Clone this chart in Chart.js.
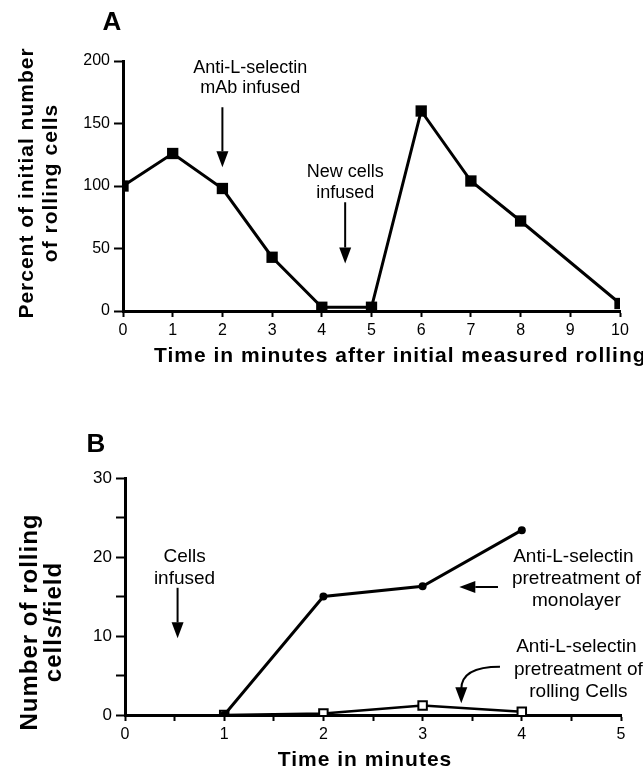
<!DOCTYPE html>
<html>
<head>
<meta charset="utf-8">
<script src="https://cdn.jsdelivr.net/npm/chart.js@4.4.1/dist/chart.umd.min.js"></script>
<style>
  html, body { margin: 0; padding: 0; background: #fff; }
  body { width: 643px; height: 773px; position: relative; overflow: hidden; }
  canvas { position: absolute; left: 0; }
  #chart-a { top: 0; }
  #chart-b { top: 400px; }
</style>
</head>
<body>
<canvas id="chart-a" width="643" height="400"></canvas>
<canvas id="chart-b" width="643" height="373"></canvas>
<script>
// Panel A: percent of initial rolling cells over time
const times_a = [0, 1, 2, 3, 4, 5, 6, 7, 8, 10];
const percent_a = [100, 126, 98, 43, 3, 3, 160, 104, 72, 6];
const ticks_a_x = [0, 1, 2, 3, 4, 5, 6, 7, 8, 9, 10];
const ticks_a_y = [0, 50, 100, 150, 200];

// Panel B: rolling cells per field
const times_b = [1, 2, 3, 4];
const monolayer_b = [0, 15, 16.3, 23.4];
const rolling_cells_b = [0, 0.2, 1.2, 0.4];
const ticks_b_x = [0, 1, 2, 3, 4, 5];
const ticks_b_y = [0, 10, 20, 30];

const FONT = "'Liberation Sans', Arial, Helvetica, sans-serif";

function to_points(xs, ys) {
    return xs.map((x, i) => ({ x: x, y: ys[i] }));
}

function draw_head(ctx, x, y, ang, head, half) {
    ctx.beginPath();
    ctx.moveTo(x, y);
    ctx.lineTo(x - head * Math.cos(ang) + half * Math.sin(ang), y - head * Math.sin(ang) - half * Math.cos(ang));
    ctx.lineTo(x - head * Math.cos(ang) - half * Math.sin(ang), y - head * Math.sin(ang) + half * Math.cos(ang));
    ctx.closePath();
    ctx.fill();
}

function draw_arrow(ctx, x1, y1, x2, y2) {
    const ang = Math.atan2(y2 - y1, x2 - x1);
    const head = 16, half = 6;
    ctx.save();
    ctx.strokeStyle = "#000";
    ctx.fillStyle = "#000";
    ctx.lineWidth = 2;
    ctx.beginPath();
    ctx.moveTo(x1, y1);
    ctx.lineTo(x2 - head * Math.cos(ang), y2 - head * Math.sin(ang));
    ctx.stroke();
    draw_head(ctx, x2, y2, ang, head, half);
    ctx.restore();
}

function text(ctx, str, x, y, font, opts) {
    opts = opts || {};
    ctx.save();
    ctx.fillStyle = "#000";
    ctx.font = font;
    ctx.textAlign = opts.align || "center";
    ctx.textBaseline = "middle";
    if (opts.spacing) ctx.letterSpacing = opts.spacing;
    ctx.translate(x, y);
    if (opts.rotate) ctx.rotate(opts.rotate);
    ctx.fillText(str, 0, 0);
    ctx.restore();
}

function base_scale(min, max, step, labels, tick_len, size, fit) {
    return {
        type: "linear",
        min: min,
        max: max,
        afterFit: fit,
        ticks: {
            stepSize: step,
            autoSkip: false,
            color: "#000",
            font: { family: FONT, size: size },
            padding: 4,
            callback: (v) => labels.includes(v) ? String(v) : ""
        },
        grid: {
            display: true,
            drawOnChartArea: false,
            drawTicks: true,
            tickLength: tick_len,
            tickColor: "#000",
            tickWidth: 2
        },
        border: { display: true, color: "#000", width: 3 }
    };
}

// Panel A annotations
const annot_a = {
    id: "annot_a",
    afterDraw(chart) {
        const ctx = chart.ctx;
        const xs = chart.scales.x, ys = chart.scales.y;
        const px = (v) => xs.getPixelForValue(v);
        const py = (v) => ys.getPixelForValue(v);
        const f = "18px " + FONT;
        text(ctx, "A", 112, 23, "bold 26px " + FONT);
        text(ctx, "Anti-L-selectin", px(2.56), py(194), f);
        text(ctx, "mAb infused", px(2.56), py(178), f);
        draw_arrow(ctx, px(2), py(163), px(2), py(115));
        text(ctx, "New cells", px(4.47), py(111), f);
        text(ctx, "infused", px(4.47), py(94), f);
        draw_arrow(ctx, px(4.47), py(87), px(4.47), py(38));
        const tf = "bold 21px " + FONT;
        text(ctx, "Percent of initial number", 27, 183, tf, { rotate: -Math.PI / 2, spacing: "1px" });
        text(ctx, "of rolling cells", 51, 183, tf, { rotate: -Math.PI / 2, spacing: "1px" });
        text(ctx, "Time in minutes after initial measured rolling", 154, 356, "bold 21px " + FONT, { align: "left", spacing: "1px" });
    }
};

// Panel B annotations
const annot_b = {
    id: "annot_b",
    afterDraw(chart) {
        const ctx = chart.ctx;
        const xs = chart.scales.x, ys = chart.scales.y;
        const px = (v) => xs.getPixelForValue(v);
        const py = (v) => ys.getPixelForValue(v);
        const f = "19px " + FONT;
        text(ctx, "B", 96, 45, "bold 26px " + FONT);
        text(ctx, "Cells", px(0.6), py(20), f);
        text(ctx, "infused", px(0.6), py(17.3), f);
        draw_arrow(ctx, px(0.53), py(16.1), px(0.53), py(9.7));
        text(ctx, "Anti-L-selectin", px(4.52), py(20), f);
        text(ctx, "pretreatment of", px(4.55), py(17.2), f);
        text(ctx, "monolayer", px(4.55), py(14.5), f);
        draw_arrow(ctx, px(3.76), py(16.2), px(3.37), py(16.2));
        text(ctx, "Anti-L-selectin", px(4.55), py(8.6), f);
        text(ctx, "pretreatment of", px(4.57), py(5.7), f);
        text(ctx, "rolling Cells", px(4.57), py(2.9), f);
        // curved arrow
        const sx = px(3.78), sy = py(6.1), ex = px(3.39), ey = py(1.5);
        const cx = px(3.39), cy = py(6.1);
        ctx.save();
        ctx.strokeStyle = "#000";
        ctx.fillStyle = "#000";
        ctx.lineWidth = 2;
        ctx.beginPath();
        ctx.moveTo(sx, sy);
        ctx.quadraticCurveTo(cx, cy, ex, ey - 14);
        ctx.stroke();
        draw_head(ctx, ex, ey, Math.PI / 2, 16, 6);
        ctx.restore();
        const tf = "bold 24px " + FONT;
        text(ctx, "Number of rolling", 30, 222, tf, { rotate: -Math.PI / 2, spacing: "1px" });
        text(ctx, "cells/field", 54, 222, tf, { rotate: -Math.PI / 2, spacing: "1px" });
        text(ctx, "Time in minutes", 365, 360, "bold 21px " + FONT, { spacing: "1px" });
    }
};

new Chart(document.getElementById("chart-a"), {
    type: "line",
    data: {
        datasets: [{
            data: to_points(times_a, percent_a),
            borderColor: "#000",
            borderWidth: 3,
            backgroundColor: "#000",
            pointStyle: "rect",
            pointRadius: 8,
            pointBorderWidth: 0,
            tension: 0
        }]
    },
    options: {
        responsive: false,
        animation: false,
        events: [],
        layout: { padding: { top: 61, right: 23, left: 0, bottom: 0 } },
        plugins: { legend: { display: false }, tooltip: { enabled: false } },
        scales: {
            x: base_scale(0, 10, 1, ticks_a_x, 6, 16, (s) => { s.height = 89; }),
            y: base_scale(0, 200, 50, ticks_a_y, 9, 16, (s) => { s.width = 123; })
        }
    },
    plugins: [annot_a]
});

new Chart(document.getElementById("chart-b"), {
    type: "line",
    data: {
        datasets: [{
            data: to_points(times_b, monolayer_b),
            borderColor: "#000",
            borderWidth: 3,
            backgroundColor: "#000",
            pointStyle: "circle",
            pointRadius: 4,
            pointBorderWidth: 0,
            tension: 0
        }, {
            data: to_points(times_b, rolling_cells_b),
            borderColor: "#000",
            borderWidth: 2.5,
            backgroundColor: "#fff",
            pointStyle: "rect",
            pointRadius: 6,
            pointBorderWidth: 2,
            tension: 0
        }]
    },
    options: {
        responsive: false,
        animation: false,
        events: [],
        layout: { padding: { top: 78, right: 22, left: 0, bottom: 0 } },
        plugins: { legend: { display: false }, tooltip: { enabled: false } },
        scales: {
            x: base_scale(0, 5, 0.5, ticks_b_x, 6, 16, (s) => { s.height = 58; }),
            y: base_scale(0, 30, 5, ticks_b_y, 9, 17, (s) => { s.width = 125; })
        }
    },
    plugins: [annot_b]
});
</script>
</body>
</html>
